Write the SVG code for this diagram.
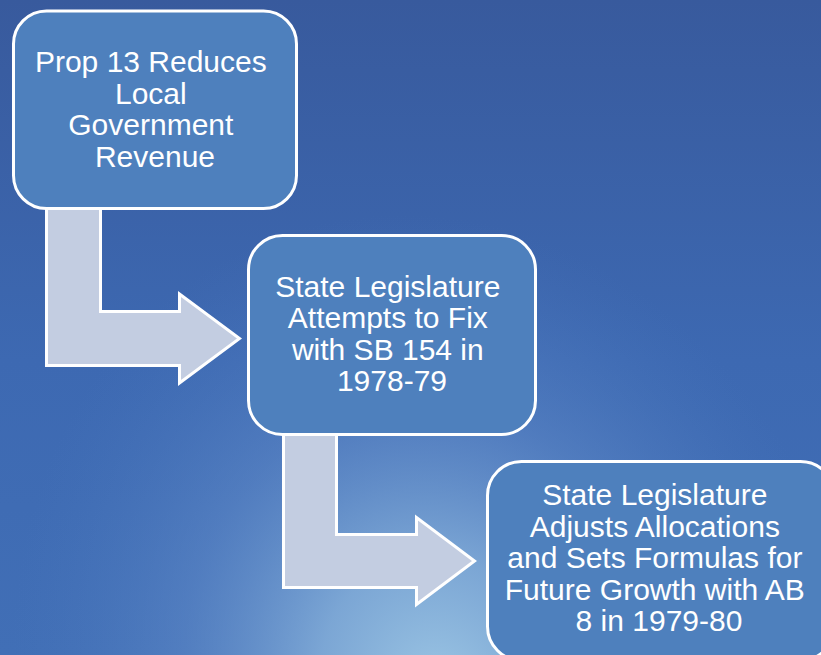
<svg xmlns="http://www.w3.org/2000/svg" width="821" height="655" viewBox="0 0 821 655">
  <defs>
    <linearGradient id="bgBase" x1="0" y1="0" x2="0" y2="1">
      <stop offset="0" stop-color="#385A9D"/>
      <stop offset="0.55" stop-color="#3D69B2"/>
      <stop offset="1" stop-color="#416FB6"/>
    </linearGradient>
    <radialGradient id="bgGlow" gradientUnits="userSpaceOnUse" cx="440" cy="690" r="420"
                    gradientTransform="translate(440 690) rotate(-20) scale(1 1.15) translate(-440 -690)">
      <stop offset="0" stop-color="#9CC6E4" stop-opacity="1"/>
      <stop offset="0.28" stop-color="#86B0DA" stop-opacity="0.85"/>
      <stop offset="0.6" stop-color="#6690CC" stop-opacity="0.45"/>
      <stop offset="1" stop-color="#4A78BE" stop-opacity="0"/>
    </radialGradient>
    <style>
      .box { fill: #4E80BD; stroke: #FFFFFF; stroke-width: 3; }
      .arrow { fill: #C3CDE1; stroke: #FFFFFF; stroke-width: 3; stroke-linejoin: miter; }
      .label { font-family: "Liberation Sans", Arial, sans-serif; font-size: 30px; fill: #FFFFFF; text-anchor: middle; }
    </style>
  </defs>

  <!-- backdrop -->
  <rect x="0" y="0" width="821" height="655" fill="url(#bgBase)"/>
  <rect x="0" y="0" width="821" height="655" fill="url(#bgGlow)"/>

  <!-- bent arrows linking the steps -->
  <g id="connectors">
    <polygon class="arrow" points="46.5,200 100.5,200 100.5,311.5 179.5,311.5 179.5,294 239.5,338.5 179.5,383 179.5,365.5 46.5,365.5"/>
    <polygon class="arrow" points="283.5,425 336.5,425 336.5,534.5 416.5,534.5 416.5,517.5 474.5,561 416.5,604.5 416.5,587.5 283.5,587.5"/>
  </g>

  <g id="step1">
    <rect class="box" x="13.5" y="11" width="283" height="197.5" rx="33" ry="33"/>
    <text class="label">
      <tspan x="155" y="72">Prop 13 Reduces</tspan>
      <tspan x="155" y="103.6">Local</tspan>
      <tspan x="155" y="135.2">Government</tspan>
      <tspan x="155" y="166.8">Revenue</tspan>
    </text>
  </g>

  <g id="step2">
    <rect class="box" x="248.5" y="235.5" width="287" height="199" rx="34" ry="34"/>
    <text class="label">
      <tspan x="392" y="296.5">State Legislature</tspan>
      <tspan x="392" y="328.1">Attempts to Fix</tspan>
      <tspan x="392" y="359.7">with SB 154 in</tspan>
      <tspan x="392" y="391.3">1978-79</tspan>
    </text>
  </g>

  <g id="step3">
    <rect class="box" x="487.5" y="461.5" width="347" height="199" rx="34" ry="34"/>
    <text class="label">
      <tspan x="659" y="505">State Legislature</tspan>
      <tspan x="659" y="536.6">Adjusts Allocations</tspan>
      <tspan x="659" y="568.2">and Sets Formulas for</tspan>
      <tspan x="659" y="599.8">Future Growth with AB</tspan>
      <tspan x="659" y="631.4">8 in 1979-80</tspan>
    </text>
  </g>
</svg>
